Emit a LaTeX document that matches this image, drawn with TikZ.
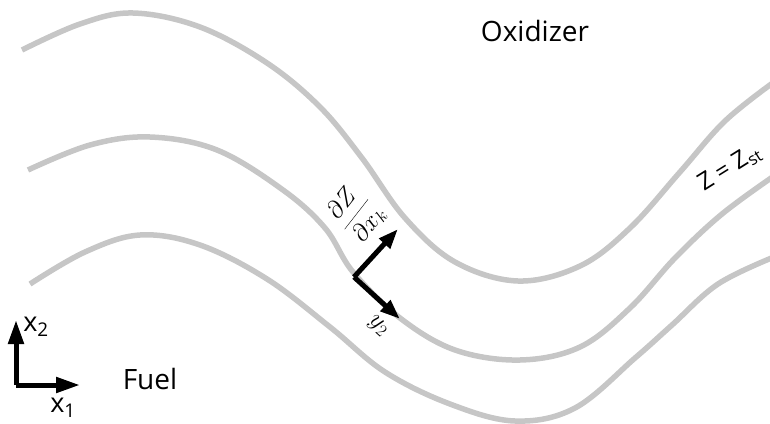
\documentclass[tikz,border=0pt]{standalone}
\usepackage[no-math]{fontspec}
\setmainfont{Open Sans}
\usetikzlibrary{arrows.meta}
\begin{document}
\begin{tikzpicture}[x=1pt,y=1pt,
  iso/.style={draw={rgb,255:red,198;green,198;blue,198}, line width=5.5pt, line cap=butt},
  vec/.style={draw=black, line width=5pt, -{Triangle[length=24pt,width=15pt]}},
  lbl/.style={font=\fontsize{28}{32}\selectfont, inner sep=0pt},
  ax/.style={font=\fontsize{27}{30}\selectfont, inner sep=0pt},
  mth/.style={font=\fontsize{24}{28}\selectfont, inner sep=0pt}]
\useasboundingbox (0,0) rectangle (770,-423);
% iso-lines of mixture fraction
\draw[iso] plot[smooth, tension=0.6] coordinates {(22,-50) (80,-24) (133,-13) (200,-27) (267,-63) (320,-107) (362,-158) (405,-218) (455,-262) (518,-281) (580,-266) (630,-228) (680,-172) (725,-121) (774,-82)};
\draw[iso] plot[smooth, tension=0.6] coordinates {(28,-170) (90,-145) (150,-137) (217,-150) (283,-190) (325,-228) (353,-272) (400,-318) (455,-350) (520,-360) (580,-347) (630,-308) (675,-258) (722,-214) (774,-176)};
\draw[iso] plot[smooth, tension=0.6] coordinates {(30,-284) (85,-252) (140,-235) (200,-245) (267,-279) (330,-327) (385,-372) (450,-404) (515,-421) (575,-408) (635,-358) (672,-325) (718,-284) (774,-257)};
% texts
\node[lbl] (ox) at (535,-31) {Oxidizer};
\node[lbl] (fuel) at (150,-379) {Fuel};
\begin{scope}[transform canvas={rotate around={32:(730,-168)}}]
\node[mth] (zst) at (730,-168) {Z = Z\textsubscript{st}};
\end{scope}
% coordinate axes
\coordinate (o) at (16,-385);
\coordinate (a2) at (16,-320);
\coordinate (a1) at (80,-385);
\draw[vec] (o) -- (a2);
\draw[vec] (o) -- (a1);
\node[ax] (x2) at (36,-327) {x\textsubscript{2}};
\node[ax] (x1) at (63,-408) {x\textsubscript{1}};
% local vectors
\coordinate (p) at (354,-277);
\coordinate (n) at (398,-229);
\coordinate (t) at (400,-319);
\draw[vec, -{Triangle[length=20pt,width=14pt]}] (p) -- (n);
\draw[vec, -{Triangle[length=20pt,width=14pt]}] (p) -- (t);
\begin{scope}[transform canvas={rotate around={52:(356,-214)}}]
\node[mth] (grad) at (356,-214) {$\displaystyle\frac{\partial Z}{\partial x_k}$};
\end{scope}
\begin{scope}[transform canvas={rotate around={-42:(378,-326)}}]
\node[mth] (y2) at (378,-326) {$y_2$};
\end{scope}
\end{tikzpicture}
\end{document}
